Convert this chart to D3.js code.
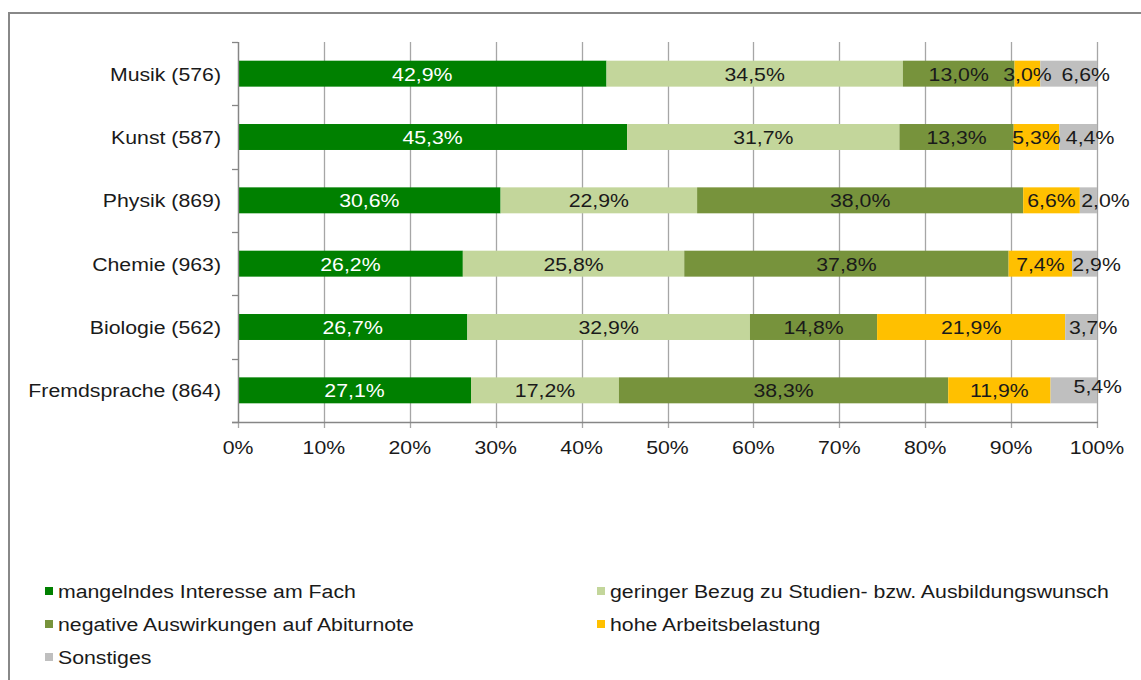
<!DOCTYPE html>
<html><head><meta charset="utf-8">
<script src="https://cdn.jsdelivr.net/npm/d3@7"></script>
<style>body{margin:0;background:#fff;} svg{display:block;font-family:"Liberation Sans",Arial,sans-serif;}</style>
</head><body>
<svg id="c" width="1141" height="680"></svg>
<script>
const categories = ["Musik (576)","Kunst (587)","Physik (869)","Chemie (963)","Biologie (562)","Fremdsprache (864)"];
const seriesNames = ["mangelndes Interesse am Fach","geringer Bezug zu Studien- bzw. Ausbildungswunsch","negative Auswirkungen auf Abiturnote","hohe Arbeitsbelastung","Sonstiges"];
const mangelndesInteresse = [42.9,45.3,30.6,26.2,26.7,27.1];
const geringerBezug = [34.5,31.7,22.9,25.8,32.9,17.2];
const negativeAbiturnote = [13.0,13.3,38.0,37.8,14.8,38.3];
const hoheArbeitsbelastung = [3.0,5.3,6.6,7.4,21.9,11.9];
const sonstiges = [6.6,4.4,2.0,2.9,3.7,5.4];
const tickLabels = ["0%","10%","20%","30%","40%","50%","60%","70%","80%","90%","100%"];

// styles / layout
const colors = ["#008000","#C3D69B","#77933C","#FFC000","#BFBFBF"];
const textColors = ["#ffffff","#1a1a1a","#1a1a1a","#1a1a1a","#1a1a1a"];
const FS = 19, SX = 1.12;
// label nudges for last series (Excel-style overlap avoidance)
const lastLabelDx = [17,12,17,12,12,24];
const lastLabelDy = [0,0,0,0,0,-4];

const svg = d3.select("#c");
svg.append("rect").attr("x",9).attr("y",13).attr("width",1160).attr("height",700)
  .attr("fill","none").attr("stroke","#888").attr("stroke-width",2);

function txt(g, x, y, s, anchor, fill){
  return g.append("text").attr("transform",`translate(${x},${y}) scale(${SX},1)`)
    .attr("text-anchor",anchor).attr("font-size",FS).attr("fill",fill).text(s);
}

const m = {l:238, r:1097, t:42, b:422};
const x = d3.scaleLinear().domain([0,1]).range([m.l,m.r]);
const y = d3.scaleBand().domain(categories).range([m.t,m.b]).paddingInner(0.59).paddingOuter(0.295);

const allSeries = [mangelndesInteresse,geringerBezug,negativeAbiturnote,hoheArbeitsbelastung,sonstiges];
const rows = categories.map((c,i)=>{const o={cat:c}; seriesNames.forEach((s,j)=>o[s]=allSeries[j][i]); return o;});
const stack = d3.stack().keys(seriesNames).offset(d3.stackOffsetExpand)(rows);

// gridlines
const grid = svg.append("g");
tickLabels.forEach((t,i)=>{
  const xv = Math.round(x(i/10))+0.5;
  grid.append("line").attr("x1",xv).attr("x2",xv).attr("y1",m.t).attr("y2",m.b+6)
    .attr("stroke","#a6a6a6").attr("stroke-width",1.3);
});

// bars
stack.forEach((ser,j)=>{
  svg.append("g").selectAll("rect").data(ser).join("rect")
    .attr("x",d=>x(d[0])).attr("width",d=>x(d[1])-x(d[0]))
    .attr("y",d=>y(d.data.cat)).attr("height",y.bandwidth())
    .attr("fill",colors[j]);
});
// labels
const lg = svg.append("g");
stack.forEach((ser,j)=>{
  ser.forEach((d,i)=>{
    const lx = (x(d[0])+x(d[1]))/2 + (j===4?lastLabelDx[i]:0);
    const ly = y(d.data.cat)+y.bandwidth()/2+7 + (j===4?lastLabelDy[i]:0);
    txt(lg, lx, ly, allSeries[j][i].toFixed(1).replace(".",",")+"%", "middle", textColors[j]);
  });
});

// y axis
const ya = svg.append("g");
ya.append("line").attr("x1",m.l+0.5).attr("x2",m.l+0.5).attr("y1",m.t).attr("y2",m.b).attr("stroke","#868686").attr("stroke-width",1.3);
d3.range(categories.length+1).forEach(i=>{
  const yv = Math.round(m.t + i*(m.b-m.t)/categories.length)+0.5;
  ya.append("line").attr("x1",m.l-6).attr("x2",m.l).attr("y1",yv).attr("y2",yv).attr("stroke","#868686").attr("stroke-width",1.3);
});
categories.forEach(c=>txt(ya, 221, y(c)+y.bandwidth()/2+7, c, "end", "#1a1a1a"));

// x axis
const xa = svg.append("g");
xa.append("line").attr("x1",m.l-6).attr("x2",m.r+1).attr("y1",m.b+0.5).attr("y2",m.b+0.5).attr("stroke","#868686").attr("stroke-width",1.3);
tickLabels.forEach((t,i)=>txt(xa, x(i/10), 454, t, "middle", "#1a1a1a"));

// legend
const legPos = [[45,591],[597,591],[45,624],[597,624],[45,657]];
const leg = svg.append("g");
seriesNames.forEach((s,j)=>{
  const [lx,ly] = legPos[j];
  leg.append("rect").attr("x",lx).attr("y",ly-4).attr("width",8).attr("height",8).attr("fill",colors[j]);
  txt(leg, lx+13, ly+7, s, "start", "#1a1a1a");
});
</script>
</body></html>
